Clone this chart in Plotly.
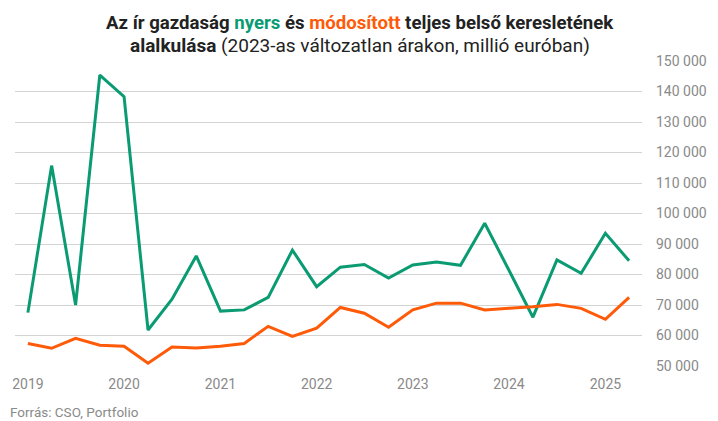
import plotly.graph_objects as go

quarters = ["2019-01-01", "2019-04-01", "2019-07-01", "2019-10-01",
            "2020-01-01", "2020-04-01", "2020-07-01", "2020-10-01",
            "2021-01-01", "2021-04-01", "2021-07-01", "2021-10-01",
            "2022-01-01", "2022-04-01", "2022-07-01", "2022-10-01",
            "2023-01-01", "2023-04-01", "2023-07-01", "2023-10-01",
            "2024-01-01", "2024-04-01", "2024-07-01", "2024-10-01",
            "2025-01-01", "2025-04-01"]

nyers = [67500, 115700, 70000, 145400, 138300, 61800, 71900, 86100,
         68000, 68400, 72500, 88000, 76000, 82400, 83300, 78800,
         83100, 84100, 83000, 96800, 81400, 66000, 84800, 80400,
         93500, 84500]

modositott = [57400, 55800, 59100, 56800, 56500, 50900, 56200, 55900,
              56500, 57400, 63000, 59700, 62400, 69200, 67300, 62700,
              68400, 70600, 70600, 68400, 68900, 69400, 70200, 68900,
              65300, 72500]

GREEN = "#0a9b73"
ORANGE = "#fe5a08"
GRAY = "#8a8a8a"

fig = go.Figure()
fig.add_trace(go.Scatter(x=quarters, y=nyers, mode="lines", name="nyers",
                         line=dict(color=GREEN, width=3), hoverinfo="x+y"))
fig.add_trace(go.Scatter(x=quarters, y=modositott, mode="lines", name="módosított",
                         line=dict(color=ORANGE, width=3), hoverinfo="x+y"))

title1 = ("<b>Az ír gazdaság <span style='color:%s'>nyers</span> és "
          "<span style='color:%s'>módosított</span> teljes belső keresletének</b>") % (GREEN, ORANGE)
title2 = "<b>alalkulása</b> (2023-as változatlan árakon, millió euróban)"

W, H = 710, 413
PW, PH = 630, 305
L = 4
cx = (351 - L) / PW
fig.update_layout(
    width=W, height=H,
    margin=dict(l=L, r=W - L - PW, t=53, b=55),
    paper_bgcolor="white", plot_bgcolor="white",
    showlegend=False,
    separators=", ",
    font=dict(family="Roboto", color=GRAY, size=14),
    xaxis=dict(type="date", range=["2018-11-13", "2025-05-20"],
               dtick="M12", tick0="2019-01-01", tickformat="%Y",
               showgrid=False, zeroline=False, showline=False, ticks="",
               ticklabelstandoff=8,
               tickfont=dict(size=14, color=GRAY)),
    yaxis=dict(side="right", range=[50000, 150000], dtick=10000,
               tickformat=",d", showgrid=True, gridcolor="#d4d4d4", gridwidth=1,
               zeroline=False, showline=False, ticks="", ticklabelstandoff=13,
               tickfont=dict(size=14, color=GRAY)),
    annotations=[
        dict(text=title1, xref="paper", yref="paper", x=cx, y=1 + 38 / PH,
             xanchor="center", yanchor="middle", showarrow=False,
             font=dict(family="Roboto", size=18.6, color="#222222")),
        dict(text=title2, xref="paper", yref="paper", x=cx, y=1 + 16 / PH,
             xanchor="center", yanchor="middle", showarrow=False,
             font=dict(family="Roboto", size=19, color="#222222")),
        dict(text="Forrás: CSO, Portfolio", xref="paper", yref="paper",
             x=-(L + 3) / PW, y=-45.5 / PH, xanchor="left", yanchor="middle",
             showarrow=False, font=dict(size=13.5, color=GRAY, family="Roboto")),
    ],
)

fig.write_html("out.html")
